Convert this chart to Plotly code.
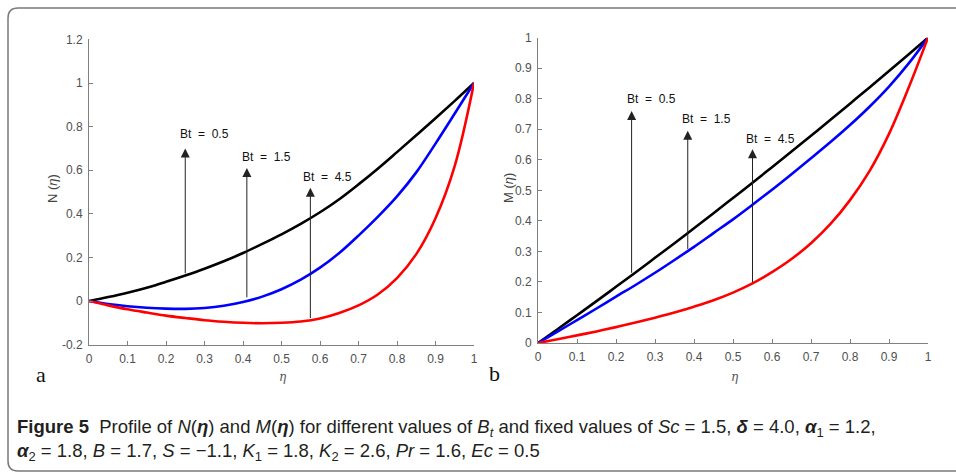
import plotly.graph_objects as go

W, H = 956, 473

eta = [0.0, 0.05, 0.1, 0.15, 0.2, 0.25, 0.3, 0.35, 0.4, 0.45, 0.5,
       0.55, 0.6, 0.65, 0.7, 0.75, 0.8, 0.85, 0.9, 0.95, 1.0]

# Panel a: N(eta)
N_bt05 = [0.0, 0.018, 0.038, 0.061, 0.088, 0.117, 0.148, 0.182, 0.22, 0.262, 0.306,
          0.354, 0.407, 0.467, 0.535, 0.607, 0.683, 0.76, 0.838, 0.918, 1.0]
N_bt15 = [0.0, -0.014, -0.024, -0.031, -0.035, -0.036, -0.032, -0.022, -0.005, 0.02, 0.054,
          0.098, 0.153, 0.22, 0.3, 0.386, 0.48, 0.59, 0.722, 0.86, 1.0]
N_bt45 = [0.0, -0.02, -0.038, -0.053, -0.067, -0.078, -0.088, -0.095, -0.1, -0.102, -0.1,
          -0.094, -0.08, -0.055, -0.02, 0.03, 0.105, 0.215, 0.38, 0.62, 1.0]

# Panel b: M(eta)
M_bt05 = [0.0, 0.045, 0.091, 0.137, 0.184, 0.231, 0.279, 0.327, 0.376, 0.425, 0.475,
          0.525, 0.576, 0.627, 0.679, 0.731, 0.784, 0.837, 0.891, 0.945, 1.0]
M_bt15 = [0.0, 0.037, 0.075, 0.113, 0.152, 0.19, 0.23, 0.272, 0.315, 0.36, 0.405,
          0.453, 0.502, 0.553, 0.605, 0.658, 0.714, 0.774, 0.84, 0.915, 1.0]
M_bt45 = [0.0, 0.012, 0.025, 0.038, 0.052, 0.067, 0.083, 0.1, 0.119, 0.14, 0.165,
          0.195, 0.232, 0.275, 0.327, 0.39, 0.468, 0.563, 0.685, 0.835, 1.0]

x_ticks = [0, 0.1, 0.2, 0.3, 0.4, 0.5, 0.6, 0.7, 0.8, 0.9, 1]
x_ticktext = ["0", "0.1", "0.2", "0.3", "0.4", "0.5", "0.6", "0.7", "0.8", "0.9", "1"]
yN_ticks = [-0.2, 0, 0.2, 0.4, 0.6, 0.8, 1, 1.2]
yN_ticktext = ["-0.2", "0", "0.2", "0.4", "0.6", "0.8", "1", "1.2"]
yM_ticks = [0, 0.1, 0.2, 0.3, 0.4, 0.5, 0.6, 0.7, 0.8, 0.9, 1]
yM_ticktext = ["0", "0.1", "0.2", "0.3", "0.4", "0.5", "0.6", "0.7", "0.8", "0.9", "1"]

bt_labels = ["Bt = 0.5", "Bt = 1.5", "Bt = 4.5"]
# arrows: (x, y_tail, y_tip, label_x, label_y)
arrows_N = [(0.25, 0.12, 0.70, 0.30, 0.766),
            (0.41, 0.01, 0.61, 0.46, 0.66),
            (0.575, -0.085, 0.52, 0.62, 0.57)]
arrows_M = [(0.24, 0.225, 0.76, 0.29, 0.80),
            (0.384, 0.303, 0.695, 0.432, 0.733),
            (0.55, 0.195, 0.635, 0.597, 0.669)]

colors = ["#000000", "#0000ff", "#ff0000"]

fig = go.Figure()
for ys, c in zip([N_bt05, N_bt15, N_bt45], colors):
    fig.add_trace(go.Scatter(x=eta, y=ys, mode="lines", line=dict(color=c, width=2.6, shape="spline", smoothing=1.0),
                             xaxis="x", yaxis="y", showlegend=False, hoverinfo="skip"))
for ys, c in zip([M_bt05, M_bt15, M_bt45], colors):
    fig.add_trace(go.Scatter(x=eta, y=ys, mode="lines", line=dict(color=c, width=2.6, shape="spline", smoothing=1.0),
                             xaxis="x2", yaxis="y2", showlegend=False, hoverinfo="skip"))

def px2x(p):
    return p / W

def px2y(p):
    return 1 - p / H

axcol = "#808080"
tickfont = dict(family="Liberation Sans, Arial, sans-serif", size=12, color="#505050")
common = dict(showgrid=False, zeroline=False, showline=True, linecolor=axcol, linewidth=1,
              ticks="inside", ticklen=4, tickcolor=axcol, tickfont=tickfont, mirror=False,
              fixedrange=True, automargin=False)

fig.update_layout(
    template="none",
    width=W, height=H, margin=dict(l=0, r=0, t=0, b=0, pad=0),
    paper_bgcolor="white", plot_bgcolor="white",
    xaxis=dict(domain=[px2x(89), px2x(474)], range=[0, 1], tickvals=x_ticks, ticktext=x_ticktext,
               anchor="y", ticklabelstandoff=3, **common),
    yaxis=dict(domain=[px2y(344.6), px2y(39.4)], range=[-0.2, 1.2], tickvals=yN_ticks, ticktext=yN_ticktext,
               anchor="x", ticklabelstandoff=3, **common),
    xaxis2=dict(domain=[px2x(538), px2x(928)], range=[0, 1], tickvals=x_ticks, ticktext=x_ticktext,
                anchor="y2", ticklabelstandoff=3, **common),
    yaxis2=dict(domain=[px2y(343), px2y(37.7)], range=[0, 1], tickvals=yM_ticks, ticktext=yM_ticktext,
                anchor="x2", ticklabelstandoff=3, **common),
)

ann = []
lblfont = dict(family="Liberation Sans, Arial, sans-serif", size=12, color="#111111")
for (xr, yr), arrows in [(("x", "y"), arrows_N), (("x2", "y2"), arrows_M)]:
    for (xa, yt, yh, lx, ly), txt in zip(arrows, bt_labels):
        ann.append(dict(x=xa, y=yh, ax=xa, ay=yt, xref=xr, yref=yr, axref=xr, ayref=yr,
                        text="", showarrow=True, arrowhead=2, arrowsize=1.8, arrowwidth=1,
                        arrowcolor="#222222", standoff=0))
        ann.append(dict(x=lx, y=ly, xref=xr, yref=yr, text=txt.replace(" ", "\u00a0\u00a0"),
                        showarrow=False, font=lblfont, xanchor="center", yanchor="middle"))

def paper_text(px, py, text, font, angle=0):
    return dict(x=px2x(px), y=px2y(py), xref="paper", yref="paper", text=text, textangle=angle,
                xanchor="center", yanchor="middle", showarrow=False, font=font)

# axis titles
ytf = dict(family="Liberation Sans, Arial, sans-serif", size=13, color="#444444")
ann.append(paper_text(52, 189, "N (<i>η</i>)", ytf, -90))
ann.append(paper_text(508, 188, "M (<i>η</i>)", ytf, -90))
etaf = dict(family="DejaVu Serif, serif", size=12, color="#555555")
ann.append(paper_text(283, 377, "<i>η</i>", etaf))
ann.append(paper_text(735, 377, "<i>η</i>", etaf))
# panel letters
letf = dict(family="Liberation Serif, serif", size=22, color="#111111")
ann.append(paper_text(41, 374, "a", letf))
ann.append(paper_text(494, 373, "b", letf))

caption = ("<b>Figure 5</b>  Profile of <i>N</i>(<b><i>η</i></b>) and <i>M</i>(<b><i>η</i></b>) for different values of "
           "<i>B<sub>t</sub></i> and fixed values of <i>Sc</i> = 1.5, <b><i>δ</i></b> = 4.0, <b><i>α</i></b><sub>1</sub> = 1.2,"
           "<br><b><i>α</i></b><sub>2</sub> = 1.8, <i>B</i> = 1.7, <i>S</i> = −1.1, <i>K</i><sub>1</sub> = 1.8, "
           "<i>K</i><sub>2</sub> = 2.6, <i>Pr</i> = 1.6, <i>Ec</i> = 0.5")
ann.append(dict(x=px2x(15), y=px2y(414), xref="paper", yref="paper", text=caption, align="left",
                xanchor="left", yanchor="top", showarrow=False,
                font=dict(family="Liberation Sans, Arial, sans-serif", size=18.5, color="#231f20")))

fig.update_layout(annotations=ann)

# card border (rounded)
r = 10
x0, y0, y1 = 8, 8, 471
path = (f"M {px2x(W + 5)},{px2y(y0)} L {px2x(x0 + r)},{px2y(y0)} "
        f"Q {px2x(x0)},{px2y(y0)} {px2x(x0)},{px2y(y0 + r)} "
        f"L {px2x(x0)},{px2y(y1 - r)} Q {px2x(x0)},{px2y(y1)} {px2x(x0 + r)},{px2y(y1)} "
        f"L {px2x(W + 5)},{px2y(y1)}")
fig.add_shape(type="path", path=path, xref="paper", yref="paper", line=dict(color="#7a7a7a", width=1.5))

fig.write_html("out.html")
